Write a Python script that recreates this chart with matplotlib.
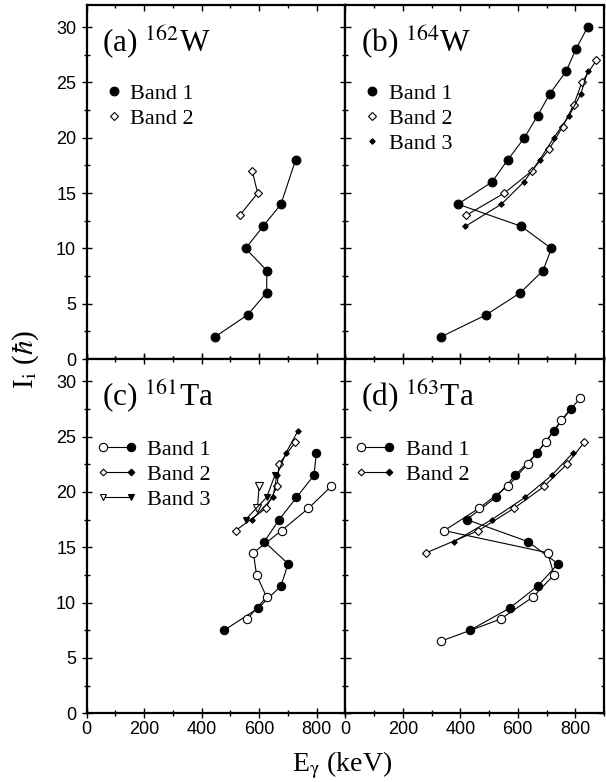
import numpy as np
import matplotlib
matplotlib.use('Agg')
import matplotlib.pyplot as plt
from matplotlib.lines import Line2D
from matplotlib.legend_handler import HandlerBase
from matplotlib.ticker import MultipleLocator

plt.rcParams['font.family'] = 'Liberation Sans'
plt.rcParams['mathtext.fontset'] = 'stix'

# (a) 162W
a_b1_I = [2, 4, 6, 8, 10, 12, 14, 18]
a_b1_E = [446, 560, 626, 627, 553, 614, 676, 727]
a_b2_I = [13, 15, 17]
a_b2_E = [533, 595, 576]

# (b) 164W
b_b1_I = [2, 4, 6, 8, 10, 12, 14, 16, 18, 20, 22, 24, 26, 28, 30]
b_b1_E = [332, 490, 609, 688, 717, 612, 392, 510, 565, 623, 669, 712, 768, 802, 843]
b_b2_I = [13, 15, 17, 19, 21, 23, 25, 27]
b_b2_E = [421, 553, 649, 710, 756, 795, 823, 873]
b_b3_I = [12, 14, 16, 18, 20, 22, 24, 26]
b_b3_E = [418, 543, 621, 676, 725, 779, 820, 843]

# (c) 161Ta
c_b1f_I = [7.5, 9.5, 11.5, 13.5, 15.5, 17.5, 19.5, 21.5, 23.5]
c_b1f_E = [479, 597, 676, 701, 618, 670, 730, 791, 799]
c_b1o_I = [8.5, 10.5, 12.5, 14.5, 16.5, 18.5, 20.5]
c_b1o_E = [558, 626, 591, 580, 678, 771, 851]
c_b2o_I = [16.5, 18.5, 20.5, 22.5, 24.5]
c_b2o_E = [518, 623, 663, 669, 726]
c_b2f_I = [17.5, 19.5, 21.5, 23.5, 25.5]
c_b2f_E = [576, 648, 662, 693, 735]
c_b3o_I = [18.5, 20.5]
c_b3o_E = [594, 600]
c_b3f_I = [17.5, 19.5, 21.5]
c_b3f_E = [553, 626, 655]

# (d) 163Ta
d_b1f_I = [7.5, 9.5, 11.5, 13.5, 15.5, 17.5, 19.5, 21.5, 23.5, 25.5, 27.5]
d_b1f_E = [434, 572, 670, 740, 636, 422, 524, 591, 667, 725, 785]
d_b1o_I = [6.5, 8.5, 10.5, 12.5, 14.5, 16.5, 18.5, 20.5, 22.5, 24.5, 26.5, 28.5]
d_b1o_E = [332, 540, 653, 726, 704, 344, 464, 565, 634, 697, 752, 818]
d_b2o_I = [14.5, 16.5, 18.5, 20.5, 22.5, 24.5]
d_b2o_E = [282, 463, 586, 692, 771, 832]
d_b2f_I = [15.5, 17.5, 19.5, 21.5, 23.5]
d_b2f_E = [378, 510, 625, 718, 791]

titles = [r'(a) $^{162}$W', r'(b) $^{164}$W', r'(c) $^{161}$Ta', r'(d) $^{163}$Ta']

serif = 'Liberation Serif'
lw = 0.8
leg_font = {'family': serif, 'size': 16}


class PairHandler(HandlerBase):
    # open marker -- line -- filled marker
    def create_artists(self, legend, orig, xdescent, ydescent, width, height,
                       fontsize, trans):
        pad = 0.2 * fontsize
        y = (height - ydescent) / 2
        x0 = -xdescent + pad
        x1 = width - xdescent - pad
        line = Line2D([x0, x1], [y, y], color='k', lw=lw)
        kw = dict(ls='none', marker=orig.get_marker(), ms=orig.get_markersize(),
                  mec='k', mew=0.8)
        m0 = Line2D([x0], [y], mfc='white', **kw)
        m1 = Line2D([x1], [y], mfc='k', **kw)
        for a in (line, m0, m1):
            a.set_transform(trans)
        return [line, m0, m1]


fig = plt.figure(figsize=(6.06, 7.82), dpi=100)
gs = fig.add_gridspec(2, 2, left=0.143, right=0.9967, top=0.9936, bottom=0.088,
                      wspace=0, hspace=0)
axes = [[fig.add_subplot(gs[i, j]) for j in range(2)] for i in range(2)]


def series(ax, E, I, marker, ms, filled):
    ax.plot(E, I, '-', color='k', lw=lw, marker=marker, ms=ms,
            mfc='k' if filled else 'white', mec='k', mew=0.8, zorder=3)


def mk(marker, ms, filled):
    return Line2D([], [], color='k', lw=lw, ls='none', marker=marker, ms=ms,
                  mfc='k' if filled else 'white', mec='k', mew=0.8)


ax = axes[0][0]
series(ax, a_b1_E, a_b1_I, 'o', 6.3, True)
series(ax, a_b2_E, a_b2_I, 'D', 3.6, False)
ax.legend([mk('o', 6.3, True), mk('D', 3.6, False)], ['Band 1', 'Band 2'],
          loc='upper left', bbox_to_anchor=(0.07, 0.778), frameon=False,
          numpoints=1, handlelength=0.8, handletextpad=0.35, labelspacing=0.2,
          borderpad=0, borderaxespad=0, prop=leg_font)

ax = axes[0][1]
series(ax, b_b1_E, b_b1_I, 'o', 6.3, True)
series(ax, b_b2_E, b_b2_I, 'D', 3.6, False)
series(ax, b_b3_E, b_b3_I, 'D', 2.8, True)
ax.legend([mk('o', 6.3, True), mk('D', 3.6, False), mk('D', 2.8, True)],
          ['Band 1', 'Band 2', 'Band 3'],
          loc='upper left', bbox_to_anchor=(0.07, 0.778), frameon=False,
          numpoints=1, handlelength=0.8, handletextpad=0.35, labelspacing=0.2,
          borderpad=0, borderaxespad=0, prop=leg_font)

ax = axes[1][0]
series(ax, c_b1f_E, c_b1f_I, 'o', 6.0, True)
series(ax, c_b1o_E, c_b1o_I, 'o', 6.0, False)
series(ax, c_b2o_E, c_b2o_I, 'D', 3.6, False)
series(ax, c_b2f_E, c_b2f_I, 'D', 2.8, True)
series(ax, c_b3o_E, c_b3o_I, 'v', 5.5, False)
series(ax, c_b3f_E, c_b3f_I, 'v', 5.0, True)
ax.legend([mk('o', 6.0, True), mk('D', 3.4, True), mk('v', 5.0, True)],
          ['Band 1', 'Band 2', 'Band 3'],
          handler_map={Line2D: PairHandler()},
          loc='upper left', bbox_to_anchor=(0.045, 0.774), frameon=False,
          handlelength=1.65, handletextpad=0.55, labelspacing=0.2,
          borderpad=0, borderaxespad=0, prop=leg_font)

ax = axes[1][1]
series(ax, d_b1f_E, d_b1f_I, 'o', 6.0, True)
series(ax, d_b1o_E, d_b1o_I, 'o', 6.0, False)
series(ax, d_b2o_E, d_b2o_I, 'D', 3.6, False)
series(ax, d_b2f_E, d_b2f_I, 'D', 2.8, True)
ax.legend([mk('o', 6.0, True), mk('D', 3.4, True)], ['Band 1', 'Band 2'],
          handler_map={Line2D: PairHandler()},
          loc='upper left', bbox_to_anchor=(0.045, 0.774), frameon=False,
          handlelength=1.65, handletextpad=0.55, labelspacing=0.2,
          borderpad=0, borderaxespad=0, prop=leg_font)

for i in range(2):
    for j in range(2):
        ax = axes[i][j]
        ax.set_xlim(0, 900)
        ax.set_ylim(0, 32)
        ax.xaxis.set_major_locator(MultipleLocator(200))
        ax.xaxis.set_minor_locator(MultipleLocator(100))
        ax.yaxis.set_major_locator(MultipleLocator(5))
        ax.yaxis.set_minor_locator(MultipleLocator(2.5))
        ax.tick_params(which='both', direction='in', top=True, right=True,
                       labelsize=13, width=1.0)
        ax.tick_params(which='major', length=4)
        ax.tick_params(which='minor', length=2.5)
        if j == 0:
            ax.tick_params(axis='y', which='both', direction='inout', pad=4)
            ax.tick_params(axis='y', which='major', length=7)
            ax.tick_params(axis='y', which='minor', length=4)
        if i == 1:
            ax.tick_params(axis='x', which='both', direction='inout', pad=2)
            ax.tick_params(axis='x', which='major', length=7)
            ax.tick_params(axis='x', which='minor', length=4)
        for s in ax.spines.values():
            s.set_linewidth(1.6)
        if i == 0:
            ax.tick_params(labelbottom=False)
        if j == 1:
            ax.tick_params(labelleft=False)
        ax.text(0.06, 0.895, titles[2 * i + j], transform=ax.transAxes,
                fontsize=22.5, family=serif, va='center', ha='left')

fig.text(0.565, 0.013, r'E$_\mathrm{\gamma}$ (keV)', family=serif, fontsize=20,
         ha='center', va='baseline')
fig.text(0.043, 0.54, r'I$_\mathrm{i}$ ($\hbar$)', family=serif, fontsize=21,
         ha='center', va='center', rotation=90)

fig.savefig('out.png', dpi=100)
